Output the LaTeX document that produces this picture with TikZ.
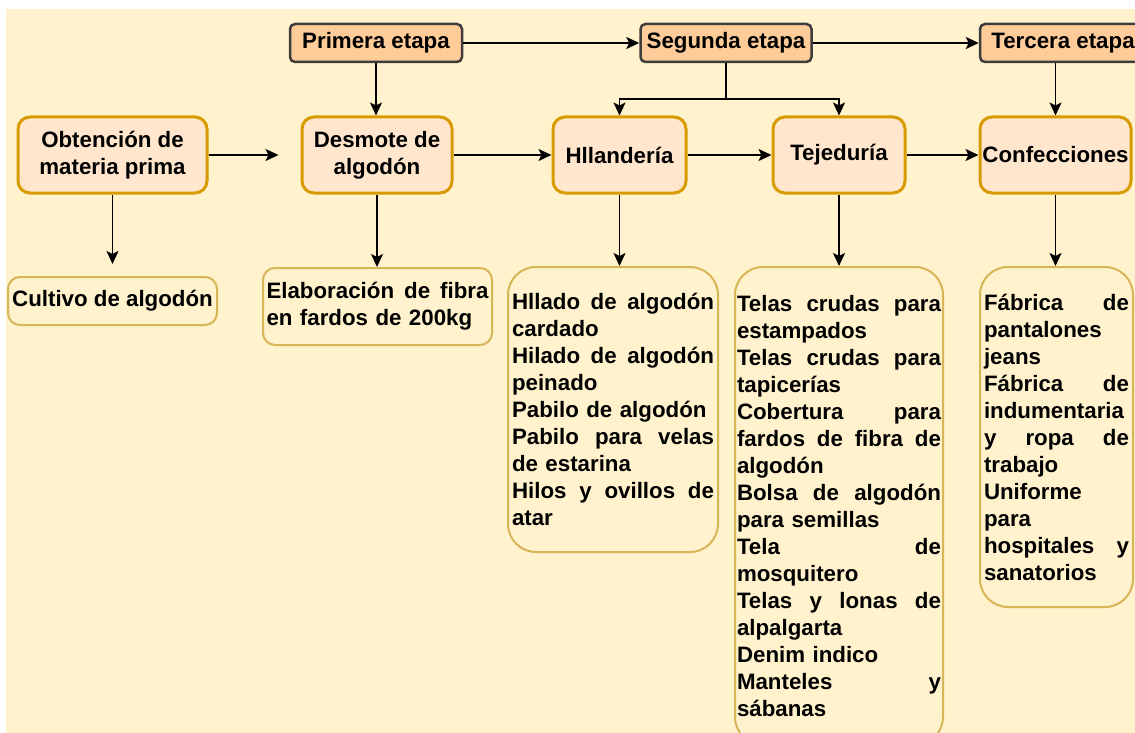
\documentclass[tikz,border=0pt]{standalone}
\usepackage{fontspec}
\setmainfont{Liberation Sans}
\usetikzlibrary{arrows.meta}
\definecolor{fondo}{HTML}{FFF2CC}
\definecolor{etapa}{HTML}{FFCC99}
\definecolor{etapaborde}{HTML}{3D3D3D}
\definecolor{proceso}{HTML}{FFE6CC}
\definecolor{procesoborde}{HTML}{D79B00}
\definecolor{productoborde}{HTML}{D6B656}
\begin{document}
\begin{tikzpicture}[x=1pt,y=-1pt,every node/.style={font=\bfseries\fontsize{22.3}{27}\selectfont,inner sep=2pt},
	etapabox/.style={draw=etapaborde,fill=etapa,line width=2.5pt,rounded corners=5pt,minimum height=38pt},
	procbox/.style={draw=procesoborde,fill=proceso,line width=3pt,rounded corners=12pt,minimum height=76pt,align=center},
	prodbox/.style={draw=productoborde,line width=2pt,rounded corners=12pt,align=left},
	flecha/.style={line width=1.7pt,-{Stealth[length=13pt,width=12pt,inset=3pt]}}]
	\useasboundingbox (0,0) rectangle (1135,733);
	\clip (0,0) rectangle (1135,733);
	\fill[fondo] (6,9) rectangle (1135,733);
	\node[etapabox,minimum width=172pt] (pri) at (376,43) {Primera etapa};
	\node[etapabox,minimum width=171pt] (seg) at (726,43) {Segunda etapa};
	\node[etapabox,minimum width=166pt] (ter) at (1063,43) {Tercera etapa};
	\node[procbox,minimum width=189pt] (obt) at (112.5,155) {Obtención de\\materia prima};
	\node[procbox,minimum width=150pt] (des) at (377,155) {Desmote de\\algodón};
	\node[procbox,minimum width=133pt] (hil) at (619.5,155) {Hllandería};
	\node[procbox,minimum width=132pt] (tej) at (839,155) {Tejeduría};
	\node[procbox,minimum width=151pt] (con) at (1055.5,155) {Confecciones};
	\node[prodbox,minimum width=209pt,minimum height=48pt] (cul) at (112.5,301) {Cultivo de algodón};
	\node[prodbox,text width=222pt,inner xsep=3.5pt,minimum height=77pt] (ela) at (377.5,306.5) {Elaboración\hfill de\hfill fibra\\en fardos de 200kg};
	\node[prodbox,rounded corners=28pt,text width=202pt,inner xsep=4pt,minimum height=285pt] (hlis) at (613,409.5) {Hllado\hfill de\hfill algodón\\cardado\\Hilado\hfill de\hfill algodón\\peinado\\Pabilo de algodón\\Pabilo\hfill para\hfill velas\\de estarina\\Hilos\hfill y\hfill ovillos\hfill de\\atar};
	\node[prodbox,rounded corners=28pt,text width=204pt,inner xsep=2pt,minimum height=478pt] (tlis) at (839,506) {Telas\hfill crudas\hfill para\\estampados\\Telas\hfill crudas\hfill para\\tapicerías\\Cobertura\hfill para\\fardos\hfill de\hfill fibra\hfill de\\algodón\\Bolsa\hfill de\hfill algodón\\para semillas\\Tela\hfill de\\mosquitero\\Telas\hfill y\hfill lonas\hfill de\\alpalgarta\\Denim indico\\Manteles\hfill y\\sábanas};
	\node[prodbox,rounded corners=28pt,text width=145pt,inner xsep=4pt,minimum height=340pt] (clis) at (1056.5,437) {Fábrica\hfill de\\pantalones\\jeans\\Fábrica\hfill de\\indumentaria\\y\hfill ropa\hfill de\\trabajo\\Uniforme\\para\\hospitales\hfill y\\sanatorios};
	\draw[flecha] (pri) -- (seg);
	\draw[flecha] (seg) -- (ter);
	\draw[flecha] (pri.south) -- (pri.south |- des.north);
	\draw[flecha] (seg.south) -- ++(0,36) -| (hil.north);
	\draw[flecha] (seg.south) -- ++(0,36) -| (tej.north);
	\draw[flecha] (con.north |- ter.south) -- (con.north);
	\draw[flecha,shorten >=22pt] (obt) -- (des);
	\draw[flecha] (des) -- (hil);
	\draw[flecha] (hil) -- (tej);
	\draw[flecha] (tej) -- (con);
	\draw[flecha,shorten >=12pt] (obt) -- (cul);
	\draw[flecha] (des.south) -- (des.south |- ela.north);
	\draw[flecha] (hil.south) -- (hil.south |- hlis.north);
	\draw[flecha] (tej.south) -- (tej.south |- tlis.north);
	\draw[flecha] (con.south) -- (con.south |- clis.north);
\end{tikzpicture}
\end{document}
